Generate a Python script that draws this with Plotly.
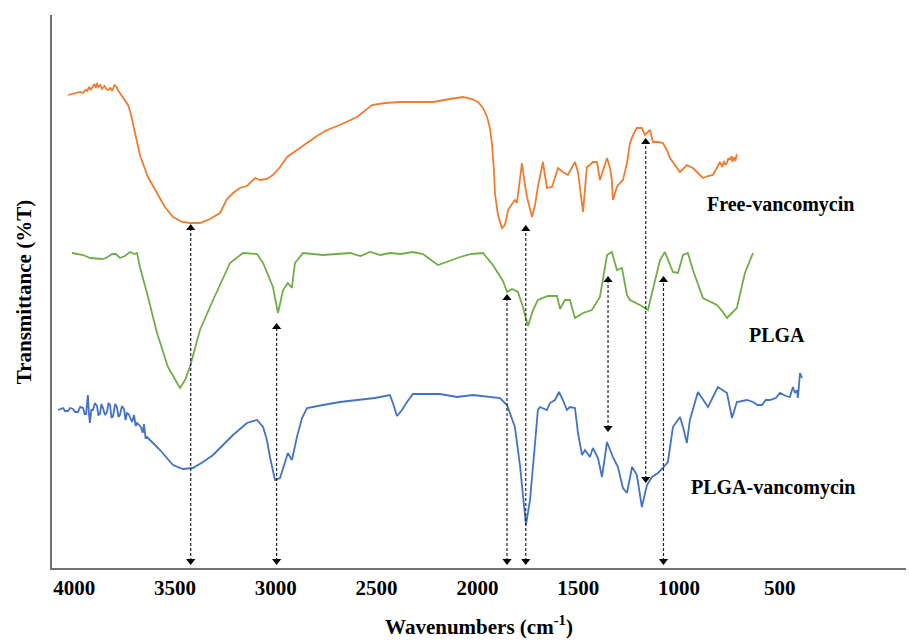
import plotly.graph_objects as go

# ---------------- data (wavenumber cm-1, relative transmittance) ----------------
free_wn = [4031, 4010, 3990, 3970, 3955, 3945, 3936, 3925, 3918, 3912, 3900, 3893, 3887, 3880, 3870,
           3862, 3850, 3840, 3830, 3820, 3812, 3800, 3790, 3780, 3770, 3763, 3750, 3733, 3720, 3708,
           3674, 3634, 3589, 3550, 3510, 3465, 3426, 3376, 3326, 3277, 3242, 3212, 3178, 3143, 3103,
           3078, 3044, 3014, 2979, 2944, 2895, 2845, 2796, 2746, 2682, 2597, 2523, 2458, 2384, 2310,
           2220, 2136, 2071, 2027, 1997, 1972, 1952, 1938, 1928, 1918, 1913, 1898, 1878, 1863, 1848,
           1828, 1814, 1804, 1789, 1779, 1764, 1754, 1729, 1714, 1700, 1675, 1655, 1640, 1630, 1600,
           1576, 1551, 1531, 1516, 1501, 1491, 1476, 1457, 1442, 1427, 1407, 1392, 1377, 1357, 1342,
           1333, 1328, 1308, 1293, 1278, 1258, 1243, 1228, 1209, 1184, 1169, 1154, 1144, 1129, 1104,
           1080, 1060, 1045, 1020, 995, 961, 931, 906, 881, 856, 832, 812, 797, 785, 777, 770, 762,
           755, 747, 740, 734, 727, 720, 713]
free_t = [94.6, 94.8, 95.0, 95.2, 95.0, 95.6, 95.4, 96.2, 95.6, 96.0, 96.8, 96.0, 97.0, 96.2, 96.6,
          95.8, 96.4, 95.8, 95.6, 96.0, 95.4, 96.6, 96.2, 95.4, 94.8, 94.4, 93.6, 92.6, 91.0, 88.8,
          82.6, 78.2, 75.0, 72.2, 70.2, 69.2, 69.0, 69.0, 69.8, 71.0, 73.8, 75.0, 76.0, 76.4, 78.0,
          77.6, 77.8, 78.6, 80.2, 82.2, 83.6, 85.0, 86.4, 87.6, 88.6, 90.2, 92.6, 93.0, 93.2, 93.2,
          93.2, 93.8, 94.2, 93.8, 93.2, 92.0, 90.2, 88.0, 85.0, 79.6, 75.0, 70.6, 68.0, 68.6, 71.6,
          72.8, 73.6, 73.0, 77.6, 81.0, 76.6, 74.2, 70.2, 72.6, 76.2, 81.2, 76.0, 76.2, 76.2, 80.0,
          79.2, 78.6, 80.0, 81.2, 79.2, 75.6, 71.2, 80.2, 80.6, 81.2, 81.2, 77.6, 79.6, 82.0, 80.0,
          77.6, 73.6, 76.2, 77.0, 77.6, 81.0, 85.0, 86.6, 88.0, 88.0, 86.6, 87.2, 87.6, 85.2, 85.2,
          85.0, 83.6, 82.0, 80.6, 79.2, 80.6, 80.0, 79.0, 78.0, 78.4, 78.6, 80.0, 81.2, 80.2, 81.4,
          80.6, 81.0, 82.0, 81.6, 82.4, 81.2, 82.2, 81.4, 82.8]

plga_wn = [4011, 3985, 3956, 3920, 3882, 3860, 3842, 3812, 3793, 3773, 3748, 3723, 3700, 3688, 3674,
           3639, 3589, 3535, 3475, 3450, 3426, 3376, 3311, 3227, 3163, 3093, 3063, 3039, 3014, 2989,
           2964, 2940, 2920, 2905, 2865, 2766, 2700, 2632, 2580, 2533, 2480, 2434, 2380, 2320, 2270,
           2196, 2140, 2086, 2030, 1972, 1923, 1873, 1853, 1828, 1799, 1774, 1749, 1724, 1700, 1650,
           1605, 1590, 1566, 1541, 1516, 1476, 1432, 1392, 1357, 1333, 1308, 1283, 1258, 1243, 1194,
           1154, 1134, 1094, 1070, 1030, 1005, 980, 956, 931, 881, 812, 782, 762, 713, 673, 633]
plga_t = [63.0, 62.8, 62.6, 62.0, 61.8, 61.8, 62.0, 62.8, 62.8, 62.0, 62.4, 63.2, 62.8, 63.0, 60.2,
          55.0, 47.0, 40.2, 36.0, 37.6, 40.2, 47.6, 53.6, 61.0, 63.0, 62.8, 61.0, 58.6, 56.2, 51.0,
          55.6, 57.0, 56.0, 61.0, 63.0, 62.6, 62.8, 63.0, 62.4, 63.2, 62.6, 63.0, 62.8, 63.2, 62.8,
          60.6, 61.4, 62.2, 62.8, 63.0, 60.6, 57.4, 55.2, 55.8, 55.2, 52.2, 48.4, 51.6, 53.6, 54.4,
          54.4, 51.8, 53.6, 53.6, 50.0, 51.0, 51.6, 54.2, 62.6, 63.2, 59.6, 60.0, 54.6, 53.6, 52.6,
          51.6, 55.0, 61.6, 63.2, 59.2, 59.0, 62.6, 63.0, 59.6, 54.0, 52.6, 51.2, 50.0, 52.0, 59.0, 63.0]

pv_wn = [4080, 4070, 4055, 4045, 4031, 4020, 4006, 3995, 3981, 3970, 3956, 3948, 3941, 3935, 3932,
         3927, 3922, 3915, 3907, 3897, 3887, 3880, 3872, 3865, 3857, 3847, 3837, 3830, 3822, 3815,
         3807, 3797, 3788, 3780, 3773, 3763, 3753, 3745, 3738, 3730, 3723, 3713, 3703, 3695, 3688,
         3678, 3669, 3660, 3654, 3646, 3639, 3609, 3574, 3540, 3510, 3460, 3411, 3361, 3311, 3262,
         3212, 3143, 3093, 3063, 3044, 3029, 3004, 2979, 2954, 2940, 2920, 2895, 2870, 2845, 2766,
         2682, 2597, 2508, 2434, 2419, 2399, 2374, 2349, 2320, 2186, 2101, 2022, 1888, 1853, 1814,
         1789, 1779, 1759, 1739, 1729, 1714, 1700, 1690, 1655, 1640, 1615, 1595, 1576, 1556, 1541,
         1516, 1501, 1481, 1466, 1442, 1427, 1402, 1382, 1357, 1328, 1303, 1278, 1258, 1233, 1209,
         1184, 1159, 1134, 1104, 1080, 1055, 1030, 995, 980, 961, 946, 906, 856, 807, 762, 737,
         713, 663, 633, 610, 588, 570, 549, 520, 499, 470, 450, 435, 425, 415, 410, 400, 390]
pv_t = [31.6, 31.8, 32.0, 31.4, 31.4, 32.0, 31.8, 31.2, 31.2, 32.2, 32.0, 30.8, 30.8, 33.4, 34.6,
        31.0, 29.0, 31.6, 31.6, 33.0, 32.4, 30.6, 30.8, 32.8, 32.0, 30.6, 31.2, 33.0, 32.6, 30.0,
        30.4, 32.8, 32.2, 30.2, 30.6, 32.4, 31.8, 29.6, 31.0, 30.8, 30.0, 29.2, 30.6, 28.4, 29.0,
        28.6, 28.2, 27.0, 28.8, 26.0, 26.2, 25.0, 23.6, 22.0, 20.6, 19.8, 20.0, 21.2, 22.6, 24.6,
        26.6, 29.0, 29.6, 28.2, 25.6, 22.2, 17.6, 18.0, 21.2, 23.0, 21.6, 26.2, 30.0, 32.0, 32.6,
        33.2, 33.6, 34.0, 34.6, 33.0, 30.4, 31.6, 33.2, 34.8, 34.8, 34.2, 34.6, 34.0, 32.6, 28.2,
        20.6, 16.2, 8.6, 13.6, 17.6, 25.0, 31.6, 32.2, 31.6, 33.0, 33.6, 35.2, 33.6, 31.6, 32.2,
        32.0, 27.0, 22.6, 23.6, 22.2, 24.0, 22.0, 18.2, 25.2, 22.2, 20.2, 16.0, 15.0, 20.2, 18.6,
        12.2, 16.6, 18.2, 19.0, 20.0, 21.2, 28.2, 30.2, 28.2, 25.0, 29.6, 35.2, 32.2, 36.2, 35.0, 30.0,
        33.2, 33.6, 33.2, 32.6, 32.6, 33.6, 33.6, 34.0, 35.0, 34.4, 34.2, 36.2, 35.0, 35.6, 34.0, 39.0, 38.0]

# peak marker arrows: wavenumber, upper head, lower head
arrow_wn = [3422, 2996, 1853, 1760, 1352, 1165, 1077]
arrow_top = [68.0, 48.2, 54.0, 67.8, 57.6, 85.2, 57.6]
arrow_bottom = [1.4, 1.4, 1.4, 1.4, 28.0, 17.8, 1.4]

tick_vals = [4000, 3500, 3000, 2500, 2000, 1500, 1000, 500]
tick_text = ["4000", "3500", "3000", "2500", "2000", "1500", "1000", "500"]

labels = ["Free-vancomycin", "PLGA", "PLGA-vancomycin"]
label_wn = [499, 514, 534]
label_t = [72.8, 46.6, 16.2]

FONT = "Liberation Serif"

fig = go.Figure()
fig.add_trace(go.Scatter(x=free_wn, y=free_t, mode="lines", line=dict(color="#ED7D31", width=1.8),
                         name=labels[0], showlegend=False))
fig.add_trace(go.Scatter(x=plga_wn, y=plga_t, mode="lines", line=dict(color="#70AD47", width=1.8),
                         name=labels[1], showlegend=False))
fig.add_trace(go.Scatter(x=pv_wn, y=pv_t, mode="lines", line=dict(color="#4472C4", width=1.8),
                         name=labels[2], showlegend=False))

for w, top, bot in zip(arrow_wn, arrow_top, arrow_bottom):
    fig.add_trace(go.Scatter(x=[w, w], y=[bot, top], mode="lines",
                             line=dict(color="#222222", width=1.2, dash="3px,2px"),
                             showlegend=False, hoverinfo="skip"))
    fig.add_trace(go.Scatter(x=[w, w], y=[bot, top], mode="markers",
                             marker=dict(symbol=["triangle-down", "triangle-up"], size=8, color="#000000"),
                             showlegend=False, hoverinfo="skip"))

for txt, w, t in zip(labels, label_wn, label_t):
    fig.add_annotation(x=w, y=t, xref="x", yref="y", text=txt, showarrow=False,
                       font=dict(family=FONT, size=20, color="#000000", weight="bold"))

fig.add_annotation(x=-0.033, y=0.5, xref="paper", yref="paper", text="Transmittance (%T)",
                   textangle=-90, showarrow=False, xanchor="center", yanchor="middle",
                   font=dict(family=FONT, size=21, color="#000000", weight="bold"))

fig.update_layout(
    width=909, height=641,
    margin=dict(l=52, r=3, t=15, b=73),
    paper_bgcolor="white", plot_bgcolor="white",
    xaxis=dict(range=[4110, -126], showgrid=False, zeroline=False, showline=True,
               linecolor="#707070", linewidth=1.5, tickmode="array", tickvals=tick_vals,
               ticktext=tick_text, ticks="", 
               tickfont=dict(family=FONT, size=21, color="#000000", weight="bold"),
               title=dict(text="Wavenumbers (cm<sup>-1</sup>)", standoff=20,
                          font=dict(family=FONT, size=21, color="#000000", weight="bold"))),
    yaxis=dict(range=[0, 110.6], showgrid=False, zeroline=False, showline=True,
               linecolor="#707070", linewidth=1.5, showticklabels=False, ticks=""),
)

fig.write_html("out.html")
